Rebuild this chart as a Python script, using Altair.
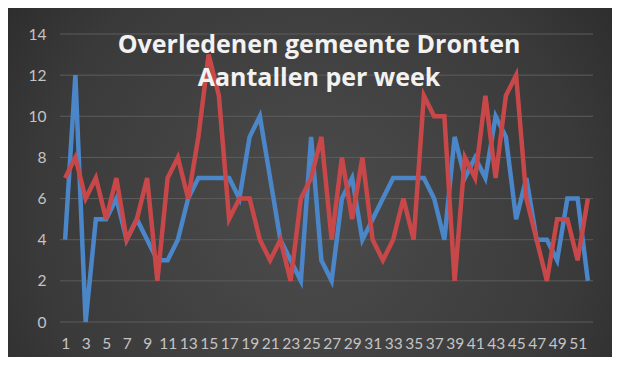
import altair as alt
import pandas as pd

weeks = list(range(1, 53))
blue_values = [4, 12, 0, 5, 5, 6, 4, 5, 4, 3,
               3, 4, 6, 7, 7, 7, 7, 6, 9, 10,
               7, 4, 3, 2, 9, 3, 2, 6, 7, 4,
               5, 6, 7, 7, 7, 7, 6, 4, 9, 7,
               8, 7, 10, 9, 5, 7, 4, 4, 3, 6,
               6, 2]
red_values = [7, 8, 6, 7, 5, 7, 4, 5, 7, 2,
              7, 8, 6, 9, 13, 11, 5, 6, 6, 4,
              3, 4, 2, 6, 7, 9, 4, 8, 5, 8,
              4, 3, 4, 6, 4, 11, 10, 10, 2, 8,
              7, 11, 7, 11, 12, 6, 4, 2, 5, 5,
              3, 6]
series_names = ["blauw", "rood"]
series_colors = ["#4a86c8", "#c8484a"]
x_ticks = list(range(1, 53, 2))
y_ticks = list(range(0, 15, 2))
title_lines = ["Overledenen gemeente Dronten", "Aantallen per week"]

df = pd.DataFrame({
    "week": weeks * 2,
    "aantal": blue_values + red_values,
    "reeks": [series_names[0]] * len(weeks) + [series_names[1]] * len(weeks),
})
grid_df = pd.DataFrame({"aantal": y_ticks})

W, H = 533, 288
PAD = {"left": 52, "top": 26, "right": 19, "bottom": 35}

bg = alt.Chart(alt.Data(values=[{"k": 1}])).mark_rect(
    fill={
        "gradient": "radial",
        "x1": 0.5, "y1": 0.55, "r1": 0,
        "x2": 0.5, "y2": 0.55, "r2": 0.75,
        "stops": [
            {"offset": 0, "color": "#4c4c4c"},
            {"offset": 0.6, "color": "#3a3a3a"},
            {"offset": 1, "color": "#222222"},
        ],
    },
    clip=False,
).encode(
    x=alt.value(-PAD["left"]),
    x2=alt.value(W + PAD["right"]),
    y=alt.value(-PAD["top"]),
    y2=alt.value(H + PAD["bottom"]),
)

x_enc = alt.X(
    "week:Q",
    scale=alt.Scale(domain=[0.5, 52.5], nice=False, zero=False),
    axis=alt.Axis(
        values=x_ticks, grid=False, ticks=False, domain=False, title=None,
        labelFont="Lato", labelFontSize=15.5, labelColor="#c4c4c4",
        labelPadding=14, labelOverlap=False, labelFlush=False, zindex=1,
    ),
)
y_scale = alt.Scale(domain=[0, 14], nice=False)
y_enc = alt.Y(
    "aantal:Q",
    scale=y_scale,
    axis=alt.Axis(
        values=y_ticks, grid=False,
        ticks=False, domain=False, title=None,
        labelFont="Lato", labelFontSize=15.5, labelColor="#c4c4c4",
        labelPadding=14, zindex=1,
    ),
)

grid = alt.Chart(grid_df).mark_rule(color="#5c5c5c", strokeWidth=1).encode(
    y=y_enc,
    x=alt.value(0),
    x2=alt.value(W),
)

lines = alt.Chart(df).mark_line(strokeWidth=4.5, strokeJoin="miter").encode(
    x=x_enc,
    y=y_enc,
    color=alt.Color("reeks:N", scale=alt.Scale(domain=series_names, range=series_colors), legend=None),
    order=alt.Order("week:Q"),
)


def title_layer(text, ypos):
    return alt.Chart(alt.Data(values=[{"tekst": text}])).mark_text(
        font="Open Sans", fontWeight="bold", fontSize=25, color="#f2f2f2",
        align="center", baseline="middle",
    ).encode(
        text="tekst:N",
        x=alt.value(259),
        y=alt.value(ypos),
    )


title_layers = [title_layer(t, 11 + i * 33) for i, t in enumerate(title_lines)]

chart = alt.layer(bg, grid, lines, *title_layers).properties(
    width=W, height=H,
    autosize=alt.AutoSizeParams(type="none"),
    padding=PAD,
    background="#262626",
).configure_view(stroke=None)

chart.save("out.html", embed_options={"renderer": "svg", "actions": False})
